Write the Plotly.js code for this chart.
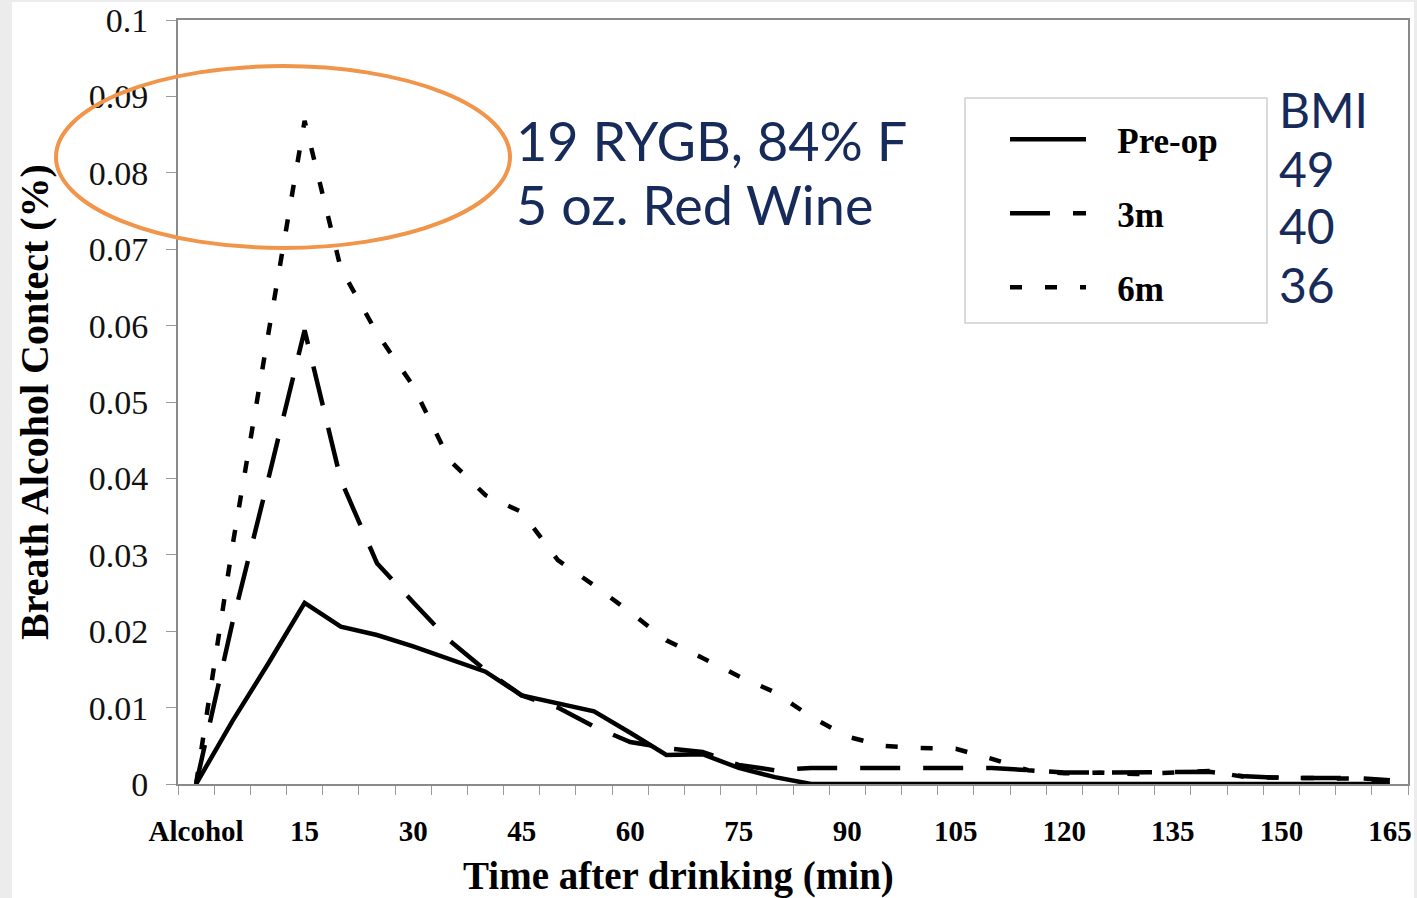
<!DOCTYPE html>
<html>
<head>
<meta charset="utf-8">
<script src="https://cdn.plot.ly/plotly-3.0.1.min.js"></script>
<style>
  html, body { margin: 0; padding: 0; background: #ececec; width: 1417px; height: 898px; overflow: hidden; }
  #chart { position: absolute; left: 12px; top: 2px; width: 1402px; height: 896px; background: #ffffff; }
</style>
</head>
<body>
<div id="chart"></div>
<script>
// ---- data ----
const timeMin = [0, 5, 10, 15, 20, 25, 30, 35, 40, 45, 50, 55, 60, 65, 70, 75, 80, 85,
                 90, 95, 100, 105, 110, 115, 120, 125, 130, 135, 140, 145, 150, 155, 160, 165];
const tickPositions = [0, 15, 30, 45, 60, 75, 90, 105, 120, 135, 150, 165];
const tickLabels = ['Alcohol', '15', '30', '45', '60', '75', '90', '105', '120', '135', '150', '165'];
const yTickVals = [0, 0.01, 0.02, 0.03, 0.04, 0.05, 0.06, 0.07, 0.08, 0.09, 0.1];
const yTickText = ['0', '0.01', '0.02', '0.03', '0.04', '0.05', '0.06', '0.07', '0.08', '0.09', '0.1'];

const preOp = [0, 0.0082, 0.0158, 0.0237, 0.0206, 0.0195, 0.0180, 0.0163, 0.0147, 0.0116,
               0.0105, 0.0095, 0.0067, 0.0038, 0.0039, 0.0021, 0.0009, 0, 0, 0,
               0, 0, 0, 0, 0, 0, 0, 0, 0, 0, 0, 0, 0, 0];
const m3 = [0, 0.0210, 0.0400, 0.0594, 0.0398, 0.0289, 0.0238, 0.0188, 0.0149, 0.0116,
            0.0100, 0.0075, 0.0055, 0.0047, 0.0042, 0.0025, 0.0018, 0.0021, 0.0021, 0.0021,
            0.0021, 0.0021, 0.0021, 0.0018, 0.0015, 0.0015, 0.0015, 0.0015, 0.0016, 0.0010,
            0.0008, 0.0008, 0.0008, 0.0005];
const m6 = [0, 0.0310, 0.0590, 0.0868, 0.0675, 0.0590, 0.0521, 0.0424, 0.0378, 0.0356,
            0.0293, 0.0260, 0.0225, 0.0188, 0.0165, 0.0141, 0.0120, 0.0088, 0.0062, 0.0050,
            0.0047, 0.0046, 0.0033, 0.0018, 0.0014, 0.0015, 0.0013, 0.0015, 0.0017, 0.0009,
            0.0008, 0.0008, 0.0007, 0.0004];

const seriesNames = ['Pre-op', '3m', '6m'];
const bmiLabels = ['BMI', '49', '40', '36'];
const noteLines = ['19 RYGB, 84% F', '5 oz. Red Wine'];
const xTitle = 'Time after drinking (min)';
const yTitle = 'Breath Alcohol Contect (%)';

// ---- helpers: page pixel -> paper coords (plot area 178..1408 x, 20..784 y) ----
const PL = 178, PR = 1408, PT = 20, PB = 784;
const px = x => (x - PL) / (PR - PL);
const py = y => (PB - y) / (PB - PT);

const serif = 'Liberation Serif, Times New Roman, serif';
const navy = '#172b5a';
const pad = '\u00a0\u00a0\u00a0';

const traces = [
  { x: timeMin, y: preOp, name: pad + seriesNames[0], mode: 'lines', legendgroup: 'a',
    line: { color: '#000', width: 4.5, dash: 'solid' } },
  { x: timeMin, y: m3, name: pad + seriesNames[1], mode: 'lines', legendgroup: 'b',
    line: { color: '#000', width: 4.5, dash: '40px,23px' } },
  { x: timeMin, y: m6, name: pad + seriesNames[2], mode: 'lines', legendgroup: 'c',
    line: { color: '#000', width: 4.5, dash: '12px,23px' } }
];

const annotations = [];
noteLines.forEach((t, i) => {
  annotations.push({ xref: 'paper', yref: 'paper', x: px(514), y: py(140 + i * 64),
    xanchor: 'left', yanchor: 'middle', showarrow: false, text: t,
    font: { family: 'Lato, sans-serif', size: 54, color: navy } });
});
bmiLabels.forEach((t, i) => {
  annotations.push({ xref: 'paper', yref: 'paper', x: px(1277), y: py(110 + i * 58),
    xanchor: 'left', yanchor: 'middle', showarrow: false, text: t,
    font: { family: 'Lato, sans-serif', size: 48, color: navy } });
});
annotations.push({ xref: 'paper', yref: 'paper', x: px(678), y: py(876),
  xanchor: 'center', yanchor: 'middle', showarrow: false, text: xTitle,
  font: { family: serif, size: 39, color: '#000', weight: 'bold' } });

const layout = {
  width: 1402, height: 896,
  margin: { l: 166, r: 6, t: 18, b: 114 },
  paper_bgcolor: '#ffffff', plot_bgcolor: '#ffffff',
  showlegend: true,
  legend: {
    x: px(1005), y: py(110), xanchor: 'left', yanchor: 'top',
    bgcolor: 'rgba(0,0,0,0)', borderwidth: 0,
    font: { family: serif, size: 35, color: '#000', weight: 'bold' },
    traceorder: 'grouped', tracegroupgap: 25.5, itemwidth: 76
  },
  xaxis: {
    range: [-2.5, 167.5], tickmode: 'array', tickvals: tickPositions, ticktext: tickLabels,
    ticks: '', showline: true, mirror: true, linecolor: '#8a8a8a', linewidth: 2,
    showgrid: false, zeroline: false, ticklabelstandoff: 20,
    tickfont: { family: serif, size: 29, color: '#000', weight: 'bold' },
    minor: { tickmode: 'linear', tick0: -2.5, dtick: 5, ticks: 'outside', ticklen: 9, tickcolor: '#9a9a9a', tickwidth: 1, showgrid: false }
  },
  yaxis: {
    range: [0, 0.1], tickmode: 'array', tickvals: yTickVals, ticktext: yTickText,
    ticks: 'outside', ticklen: 10, tickcolor: '#9a9a9a', tickwidth: 1,
    showline: true, mirror: true, linecolor: '#8a8a8a', linewidth: 2,
    showgrid: false, zeroline: false, ticklabelstandoff: 11, ticklabeloverflow: 'allow',
    tickfont: { family: serif, size: 34, color: '#111' },
    title: { text: yTitle, standoff: 30,
      font: { family: serif, size: 40, color: '#000', weight: 'bold' } }
  },
  shapes: [
    { type: 'rect', xref: 'paper', yref: 'paper', x0: px(965), x1: px(1267), y0: py(323), y1: py(98),
      line: { color: '#cfcfcf', width: 1.5 }, fillcolor: '#ffffff', layer: 'below' },
    { type: 'circle', xref: 'paper', yref: 'paper', x0: px(56), x1: px(510), y0: py(248), y1: py(66),
      line: { color: '#f0954a', width: 4 }, layer: 'above' }
  ],
  annotations: annotations
};

Plotly.newPlot('chart', traces, layout, { displayModeBar: false, staticPlot: true });
</script>
</body>
</html>
